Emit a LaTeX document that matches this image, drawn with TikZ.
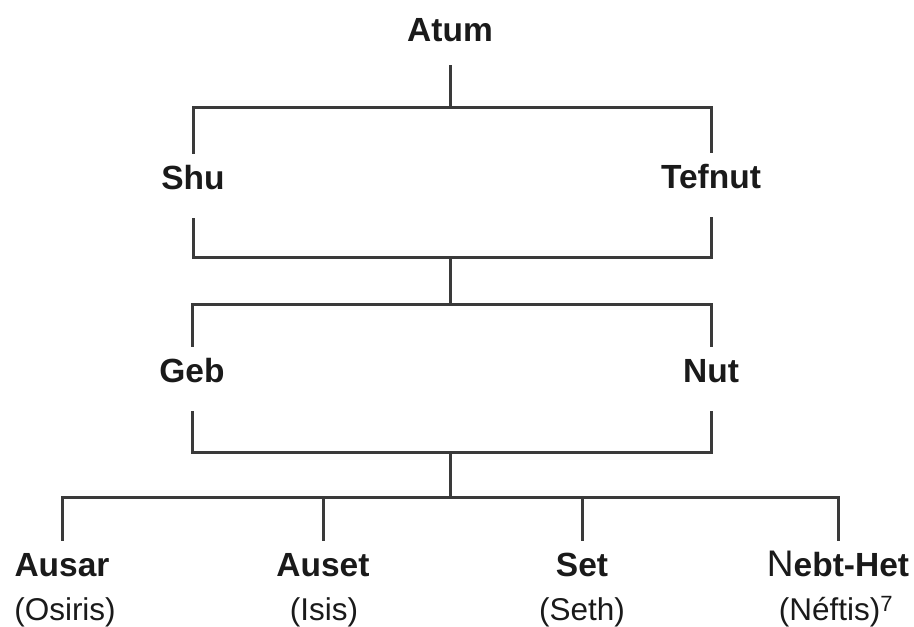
\documentclass[tikz,border=0pt]{standalone}
\usepackage{fontspec}
\setmainfont{Liberation Sans}
\definecolor{linegray}{HTML}{3A3A3A}
\definecolor{inkblack}{HTML}{1A1A1A}
\begin{document}
\begin{tikzpicture}[x=1pt,y=1pt,
  god/.style={font=\fontsize{33.5}{33.5}\selectfont\bfseries, text=inkblack,
    anchor=base, inner sep=0pt, text height=36pt, text depth=28pt},
  alias/.style={font=\fontsize{31.5}{31.5}\selectfont, text=inkblack,
    anchor=base, inner sep=0pt},
  link/.style={draw=linegray, line width=3pt, line join=miter}]
\useasboundingbox (0,0) rectangle (914,627);

% generations
\node[god, text depth=23pt] (atum) at (450,585) {Atum};
\node[god] (shu)    at (193,437) {Shu};
\node[god] (tefnut) at (711,438) {Tefnut};
\node[god] (geb)    at (192,244) {Geb};
\node[god] (nut)    at (711,244) {Nut};
\node[god] (ausar)  at (62,50)  {Ausar};
\node[god] (auset)  at (323,50) {Auset};
\node[god] (set)    at (582,50) {Set};
\node[god] (nebt)   at (838,50) {{\mdseries\fontsize{37}{37}\selectfont N}ebt-Het};

% Greek names
\node[alias] (osiris) at (65,6)  {(Osiris)};
\node[alias] (isis)   at (324,6) {(Isis)};
\node[alias] (seth)   at (582,6) {(Seth)};
\node[alias] (neftis) at (836,6) {(Néftis)\textsuperscript{7}};

% junctions
\coordinate (j1) at (450,519);
\coordinate (j2) at (450,369);
\coordinate (j3) at (450,322);
\coordinate (j4) at (450,174);
\coordinate (j5) at (450,129);

% family lines
\draw[link] (atum.south) -- (j1);
\draw[link] (shu.north) |- (j1) -| (tefnut.north);
\draw[link] (shu.south) |- (j2) -| (tefnut.south);
\draw[link] (j2) -- (j3);
\draw[link] (geb.north) |- (j3) -| (nut.north);
\draw[link] (geb.south) |- (j4) -| (nut.south);
\draw[link] (j4) -- (j5);
\draw[link] (ausar.north) |- (j5) -| (nebt.north);
\draw[link] (auset.north) -- (auset.north |- j5);
\draw[link] (set.north) -- (set.north |- j5);
\end{tikzpicture}
\end{document}
